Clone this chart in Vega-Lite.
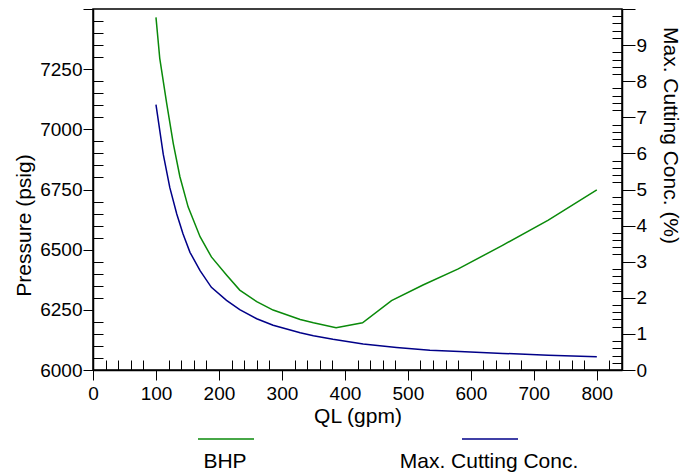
{
  "$schema": "https://vega.github.io/schema/vega-lite/v6.json",
  "width": 529,
  "height": 361,
  "autosize": "none",
  "padding": {"left": 93, "top": 9, "right": 72, "bottom": 104},
  "datasets": {
    "bhp": [
      {"QL": 100, "series": "BHP", "value": 7465},
      {"QL": 106, "series": "BHP", "value": 7295},
      {"QL": 117, "series": "BHP", "value": 7108},
      {"QL": 127.5, "series": "BHP", "value": 6941},
      {"QL": 138, "series": "BHP", "value": 6803},
      {"QL": 151, "series": "BHP", "value": 6678},
      {"QL": 170, "series": "BHP", "value": 6554},
      {"QL": 188, "series": "BHP", "value": 6470},
      {"QL": 212, "series": "BHP", "value": 6395},
      {"QL": 233, "series": "BHP", "value": 6332},
      {"QL": 260, "series": "BHP", "value": 6284},
      {"QL": 286, "series": "BHP", "value": 6249},
      {"QL": 329, "series": "BHP", "value": 6210},
      {"QL": 350, "series": "BHP", "value": 6196},
      {"QL": 386, "series": "BHP", "value": 6176},
      {"QL": 428, "series": "BHP", "value": 6196},
      {"QL": 474, "series": "BHP", "value": 6288},
      {"QL": 524, "series": "BHP", "value": 6353},
      {"QL": 580, "series": "BHP", "value": 6420},
      {"QL": 651, "series": "BHP", "value": 6519},
      {"QL": 723, "series": "BHP", "value": 6623},
      {"QL": 800, "series": "BHP", "value": 6748}
    ],
    "conc": [
      {"QL": 100, "series": "Max. Cutting Conc.", "value": 7.35},
      {"QL": 111.6, "series": "Max. Cutting Conc.", "value": 5.97},
      {"QL": 122, "series": "Max. Cutting Conc.", "value": 5.05},
      {"QL": 133, "series": "Max. Cutting Conc.", "value": 4.32},
      {"QL": 143, "series": "Max. Cutting Conc.", "value": 3.77},
      {"QL": 154, "series": "Max. Cutting Conc.", "value": 3.26},
      {"QL": 170, "series": "Max. Cutting Conc.", "value": 2.75},
      {"QL": 188, "series": "Max. Cutting Conc.", "value": 2.29},
      {"QL": 212, "series": "Max. Cutting Conc.", "value": 1.93},
      {"QL": 233, "series": "Max. Cutting Conc.", "value": 1.67},
      {"QL": 260, "series": "Max. Cutting Conc.", "value": 1.42},
      {"QL": 286, "series": "Max. Cutting Conc.", "value": 1.24},
      {"QL": 329, "series": "Max. Cutting Conc.", "value": 1.03},
      {"QL": 350, "series": "Max. Cutting Conc.", "value": 0.95},
      {"QL": 381, "series": "Max. Cutting Conc.", "value": 0.85},
      {"QL": 429, "series": "Max. Cutting Conc.", "value": 0.72},
      {"QL": 482, "series": "Max. Cutting Conc.", "value": 0.625},
      {"QL": 535, "series": "Max. Cutting Conc.", "value": 0.55},
      {"QL": 582, "series": "Max. Cutting Conc.", "value": 0.51},
      {"QL": 651, "series": "Max. Cutting Conc.", "value": 0.46},
      {"QL": 723, "series": "Max. Cutting Conc.", "value": 0.41},
      {"QL": 800, "series": "Max. Cutting Conc.", "value": 0.37}
    ]
  },
  "encoding": {
    "x": {
      "field": "QL",
      "type": "quantitative",
      "scale": {"domain": [0, 840], "nice": false, "zero": false},
      "axis": {
        "title": "QL (gpm)",
        "values": [0,20,40,60,80,100,120,140,160,180,200,220,240,260,280,300,320,340,360,380,400,420,440,460,480,500,520,540,560,580,600,620,640,660,680,700,720,740,760,780,800,820,840],
        "tickCount": 100,
        "labelExpr": "datum.value % 100 === 0 ? datum.label : ''",
        "tickSize": {"condition": {"test": "datum.value % 100 !== 0", "value": -10}, "value": 10},
        "labelPadding": 4,
        "titlePadding": 2
      }
    },
    "color": {
      "field": "series",
      "type": "nominal",
      "scale": {"domain": ["BHP", "Max. Cutting Conc."], "range": ["#0a8a0a", "#000088"]},
      "legend": {
        "title": null,
        "orient": "none",
        "legendX": 104,
        "legendY": 401,
        "padding": 0,
        "direction": "horizontal",
        "symbolType": "stroke",
        "symbolSize": 3136,
        "symbolStrokeWidth": 1.5,
        "labelAlign": "center",
        "labelBaseline": "middle",
        "labelOffset": -30,
        "labelLimit": 400,
        "labelExpr": "['', '', datum.label]",
        "columnPadding": 142
      }
    }
  },
  "layer": [
    {
      "data": {"name": "bhp"},
      "mark": {"type": "line", "strokeWidth": 1.5},
      "encoding": {
        "y": {
          "field": "value",
          "type": "quantitative",
          "scale": {"domain": [6000, 7500], "nice": false, "zero": false},
          "axis": {
            "title": "Pressure (psig)",
            "orient": "left",
            "values": [6000,6050,6100,6150,6200,6250,6300,6350,6400,6450,6500,6550,6600,6650,6700,6750,6800,6850,6900,6950,7000,7050,7100,7150,7200,7250,7300,7350,7400,7450,7500],
            "tickCount": 100,
            "labelExpr": "datum.value % 250 === 0 && datum.value < 7500 ? format(datum.value, 'd') : ''",
            "tickSize": {"condition": {"test": "datum.value % 250 !== 0", "value": -10}, "value": 10},
            "labelPadding": 1,
            "titlePadding": 5,
            "titleY": 216
          }
        }
      }
    },
    {
      "data": {"name": "conc"},
      "mark": {"type": "line", "strokeWidth": 1.5},
      "encoding": {
        "y": {
          "field": "value",
          "type": "quantitative",
          "scale": {"domain": [0, 10], "nice": false, "zero": false},
          "axis": {
            "title": "Max. Cutting Conc. (%)",
            "orient": "right",
            "values": [0,0.2,0.4,0.6,0.8,1,1.2,1.4,1.6,1.8,2,2.2,2.4,2.6,2.8,3,3.2,3.4,3.6,3.8,4,4.2,4.4,4.6,4.8,5,5.2,5.4,5.6,5.8,6,6.2,6.4,6.6,6.8,7,7.2,7.4,7.6,7.8,8,8.2,8.4,8.6,8.8,9,9.2,9.4,9.6,9.8,10],
            "tickCount": 100,
            "tickMinStep": 0.05,
            "labelExpr": "abs(datum.value - round(datum.value)) < 0.01 && datum.value < 9.5 ? format(datum.value, 'd') : ''",
            "tickSize": {"condition": {"test": "abs(datum.value - round(datum.value)) > 0.01", "value": -10}, "value": 13},
            "labelPadding": 1,
            "titlePadding": 13,
            "titleY": 126
          }
        }
      }
    }
  ],
  "resolve": {"scale": {"y": "independent"}},
  "config": {
    "font": "Liberation Sans",
    "view": {"stroke": "#000000", "strokeWidth": 1.5},
    "axis": {
      "grid": false,
      "domainColor": "#000000",
      "domainWidth": 1.5,
      "tickColor": "#000000",
      "tickWidth": 1,
      "labelColor": "#000000",
      "titleColor": "#000000",
      "labelFont": "Liberation Sans",
      "titleFont": "Liberation Sans",
      "labelFontSize": 19,
      "titleFontSize": 21,
      "titleFontWeight": "normal",
      "labelFlush": false,
      "labelOverlap": false
    },
    "legend": {
      "labelFont": "Liberation Sans",
      "labelFontSize": 21,
      "labelColor": "#000000"
    }
  }
}
